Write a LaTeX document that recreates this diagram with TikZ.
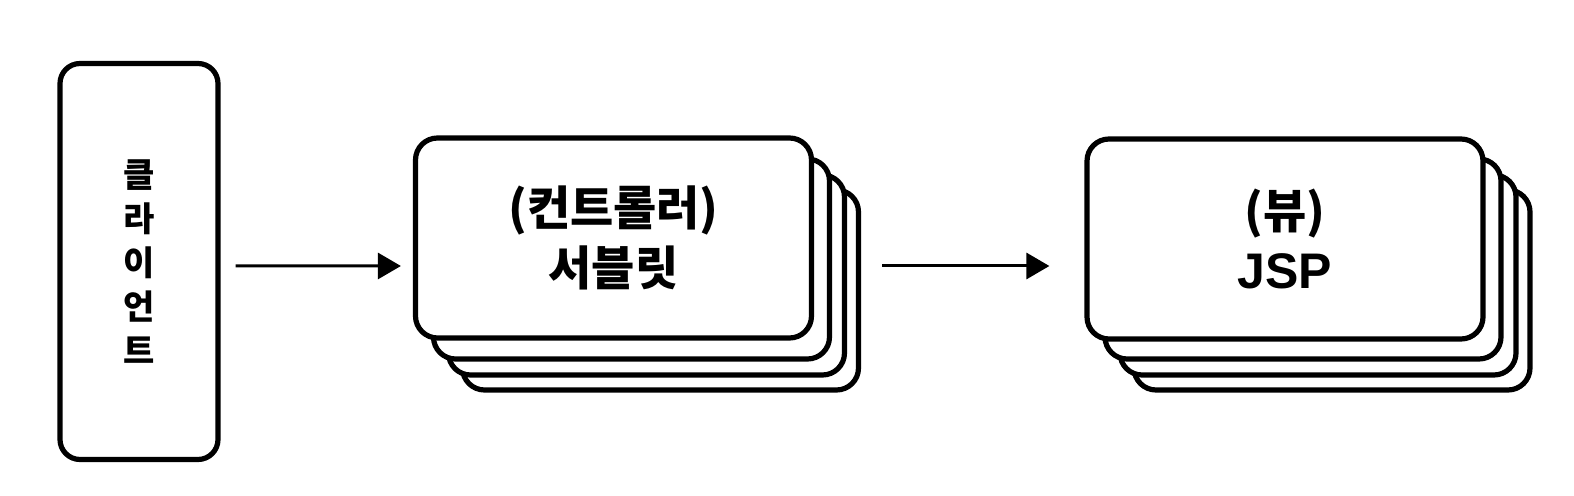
\documentclass[tikz,border=0pt]{standalone}
\usepackage{fontspec}
\setmainfont{Liberation Sans}
\newfontfamily\kr{Noto Sans CJK KR}
\usetikzlibrary{arrows.meta}
\tikzset{
  card/.style={draw=black, line width=2.6pt, rounded corners=11pt, fill=white,
    minimum width=198pt, minimum height=100pt, inner sep=0pt, align=center},
  clientbox/.style={draw=black, line width=2.6pt, rounded corners=10pt, fill=white,
    minimum width=79pt, minimum height=198pt, inner sep=0pt, align=center},
  flow/.style={line width=1.5pt, -{Triangle[length=11.5pt,width=13pt]}},
  big/.style={font=\kr\bfseries\fontsize{23.5pt}{30pt}\selectfont},
}
\begin{document}
\begin{tikzpicture}[x=0.5pt,y=-0.5pt]
\useasboundingbox (0,0) rectangle (1574,496);
% client
\node[clientbox, font=\kr\bfseries\fontsize{17pt}{22pt}\selectfont] (client) at (139,261.5)
  {클\\라\\이\\언\\트};
% servlet stack
\node[card] (s3) at (660.5,290) {};
\node[card] (s2) at (646.5,275) {};
\node[card] (s1) at (631.5,259) {};
\node[card, big] (servlet) at (613.5,238) {(컨트롤러)\\서블릿};
% jsp stack
\node[card] (j3) at (1332,290) {};
\node[card] (j2) at (1318,275) {};
\node[card] (j1) at (1303,259) {};
\node[card, big] (jsp) at (1285,239) {(뷰)\\{\rmfamily\bfseries\fontsize{25pt}{30pt}\selectfont JSP}};
% arrows
\draw[flow] ([xshift=7.5pt,yshift=-2.2pt]client.east) -- ([xshift=-6pt,yshift=-14pt]servlet.west);
\draw[flow] ([xshift=34pt,yshift=-14pt]servlet.east) -- ([xshift=-17.5pt,yshift=-13.5pt]jsp.west);
\end{tikzpicture}
\end{document}
